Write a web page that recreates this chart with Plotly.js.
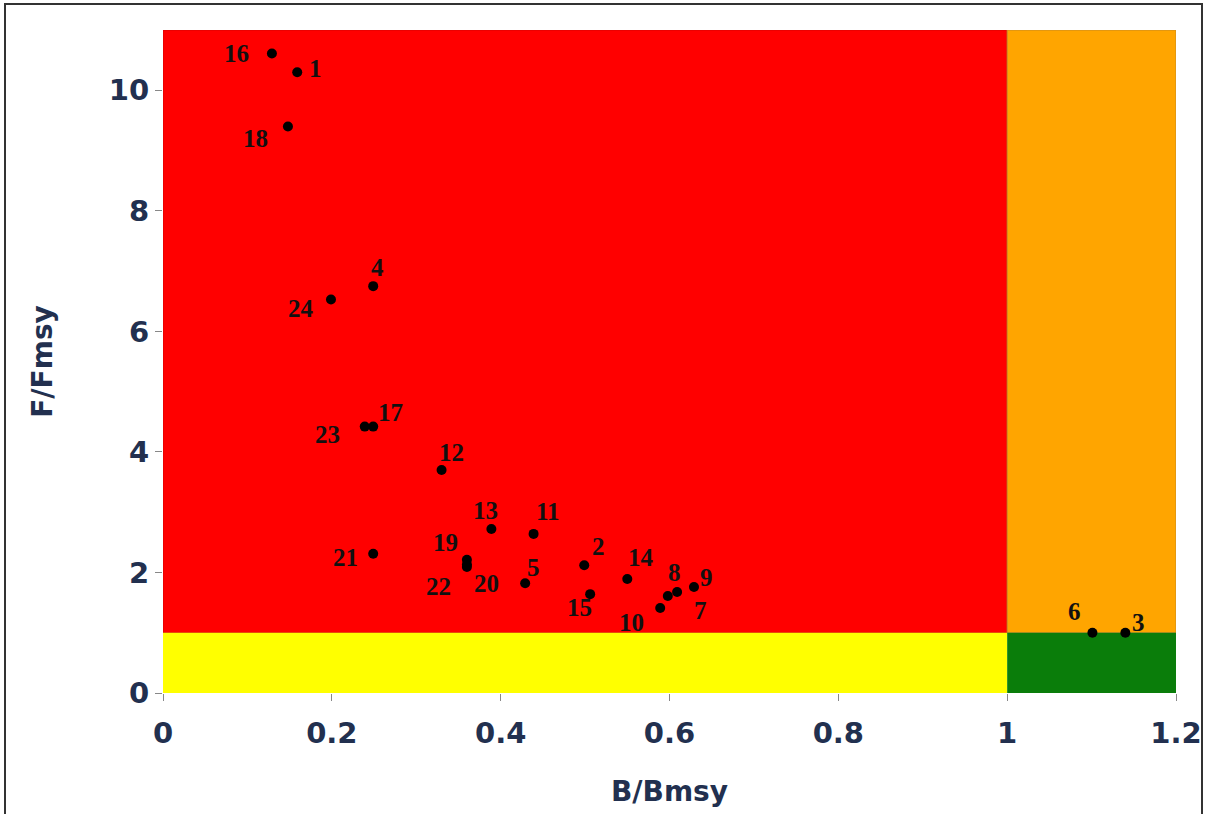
<!DOCTYPE html>
<html>
<head>
<meta charset="utf-8">
<script src="https://cdn.plot.ly/plotly-3.0.1.min.js"></script>
<style>
  html, body { margin: 0; padding: 0; background: #fff; }
  #wrap { position: relative; width: 1208px; height: 814px; }
  #chart { width: 1208px; height: 814px; }
  #frame { position: absolute; left: 4px; top: 3px; width: 1199px; height: 820px;
           border: 2px solid #333; pointer-events: none; box-sizing: border-box; }
</style>
</head>
<body>
<div id="wrap"><div id="chart"></div><div id="frame"></div></div>
<script>
// Stock labels and status values
const stockIds = ["16","1","18","4","24","17","23","12","13","11","21","19","22","20","5","2","14","15","10","8","7","9","6","3"];
const bRatio   = [0.129,0.159,0.148,0.249,0.199,0.249,0.239,0.33,0.389,0.439,0.249,0.36,0.36,0.36,0.429,0.499,0.55,0.506,0.589,0.598,0.609,0.629,1.101,1.14];
const fRatio   = [10.61,10.30,9.40,6.75,6.53,4.42,4.42,3.70,2.72,2.64,2.31,2.21,2.13,2.09,1.82,2.12,1.89,1.64,1.41,1.61,1.675,1.76,1.0,1.0];

// label offsets in px (dx right, dy down) -- styling only
const labelOffset = [[-35,0],[18,-4],[-32,12],[4,-19],[-30,9],[17,-14],[-37,8],[10,-17],[-6,-19],[14,-22],
  [-28,4],[-21,-17],[-28,22],[20,16],[8,-16],[14,-19],[14,-22],[-11,13],[-29,14],[7,-23],[23,18],[13,-9],[-18,-21],[13,-10]];

// Zone limits
const bLimit = 1, fLimit = 1, xMax = 1.2, yMax = 11;

const navy = "#22304f";
const annotations = stockIds.map((id, i) => ({
  x: bRatio[i], y: fRatio[i], text: "<b>" + id + "</b>", showarrow: false,
  xshift: labelOffset[i][0], yshift: -labelOffset[i][1],
  font: { family: "Liberation Serif, serif", size: 25, color: "#111" }
}));

const shapes = [
  { type: "rect", xref: "x", yref: "y", x0: 0, x1: bLimit, y0: fLimit, y1: yMax, fillcolor: "#ff0000", line: { color: "#d80000", width: 1 }, layer: "below" },
  { type: "rect", xref: "x", yref: "y", x0: 0, x1: bLimit, y0: 0, y1: fLimit, fillcolor: "#ffff00", line: { width: 0 }, layer: "below" },
  { type: "rect", xref: "x", yref: "y", x0: bLimit, x1: xMax, y0: fLimit, y1: yMax, fillcolor: "#ffa500", line: { color: "#c88a20", width: 1 }, layer: "below" },
  { type: "rect", xref: "x", yref: "y", x0: bLimit, x1: xMax, y0: 0, y1: fLimit, fillcolor: "#0a7d0a", line: { width: 0 }, layer: "below" }
];

const trace = {
  type: "scatter", mode: "markers", x: bRatio, y: fRatio,
  marker: { color: "#000", size: 10 }, hoverinfo: "skip"
};

const tickFont = { family: "DejaVu Sans, sans-serif", size: 29, color: navy, weight: "bold" };
const layout = {
  width: 1208, height: 814,
  margin: { l: 163, r: 32, t: 30, b: 121 },
  paper_bgcolor: "#fff", plot_bgcolor: "#fff",
  showlegend: false,
  xaxis: {
    range: [0, xMax], tickvals: [0, 0.2, 0.4, 0.6, 0.8, 1, 1.2], ticktext: ["0","0.2","0.4","0.6","0.8","1","1.2"],
    ticks: "outside", ticklen: 7, tickcolor: "#888", tickwidth: 1,
    showgrid: false, zeroline: false, showline: false,
    tickfont: tickFont, ticklabelstandoff: 7,
    title: { text: "<b>B/Bmsy</b>", font: { family: "DejaVu Sans, sans-serif", size: 28, color: navy }, standoff: 32 }
  },
  yaxis: {
    range: [0, yMax], tickvals: [0, 2, 4, 6, 8, 10],
    ticks: "outside", ticklen: 7, tickcolor: "#888", tickwidth: 1,
    showgrid: false, zeroline: false, showline: false,
    tickfont: tickFont,
    title: { text: "<b>F/Fmsy</b>", font: { family: "DejaVu Sans, sans-serif", size: 28, color: navy }, standoff: 48 }
  },
  shapes: shapes,
  annotations: annotations
};

Plotly.newPlot("chart", [trace], layout, { staticPlot: true, displayModeBar: false });
</script>
</body>
</html>
